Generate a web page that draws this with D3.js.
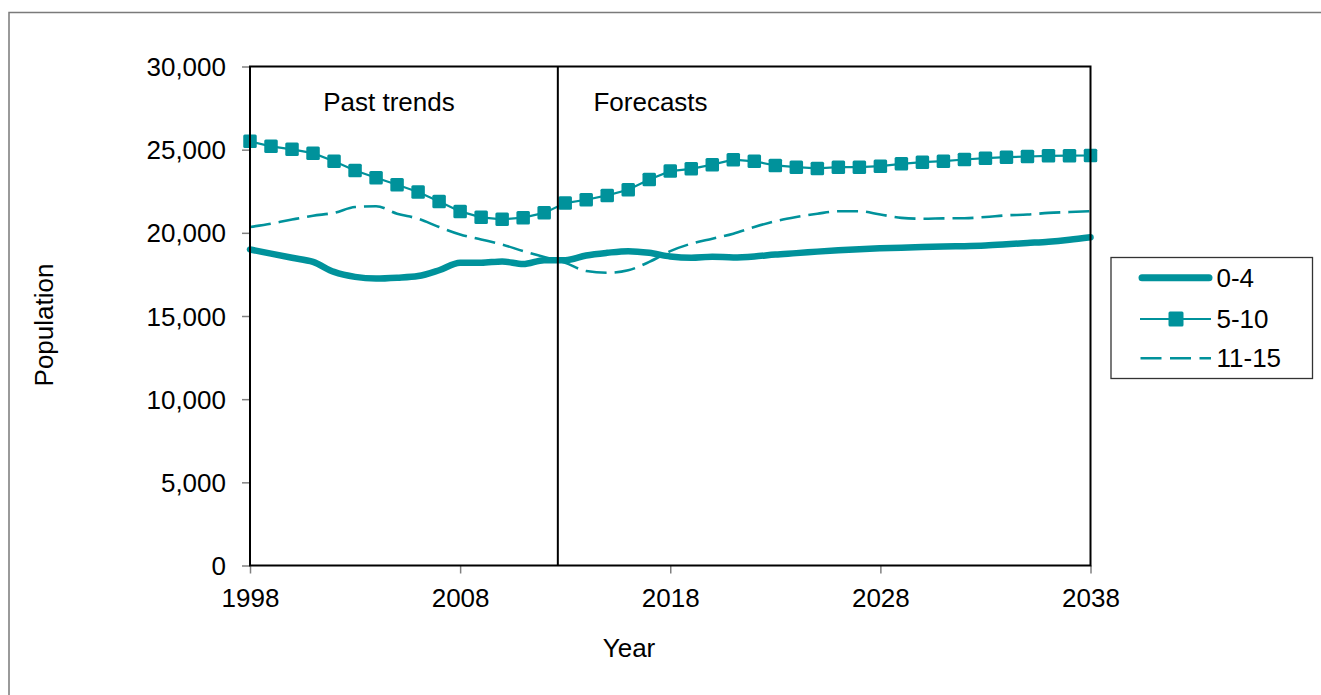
<!DOCTYPE html>
<html>
<head>
<meta charset="utf-8">
<script src="https://cdn.jsdelivr.net/npm/d3@7"></script>
<style>
  html, body { margin: 0; padding: 0; background: #fff; }
  svg text { font-family: "Liberation Sans", Arial, sans-serif; fill: #000; }
</style>
</head>
<body>
<svg id="chart" width="1321" height="695"></svg>
<script>
const years = [1998,1999,2000,2001,2002,2003,2004,2005,2006,2007,2008,2009,2010,2011,2012,2013,2014,2015,2016,2017,2018,2019,2020,2021,2022,2023,2024,2025,2026,2027,2028,2029,2030,2031,2032,2033,2034,2035,2036,2037,2038];
const age0_4 = [19000,18750,18500,18250,17650,17350,17250,17300,17400,17750,18200,18200,18280,18120,18350,18350,18640,18800,18900,18800,18580,18500,18560,18520,18580,18700,18780,18870,18950,19020,19070,19110,19150,19180,19200,19240,19310,19390,19470,19590,19740];
const age5_10 = [25500,25200,25020,24790,24310,23750,23310,22890,22450,21890,21290,20930,20810,20910,21200,21790,21990,22250,22590,23210,23710,23850,24100,24400,24300,24050,23950,23870,23950,23950,24010,24150,24250,24310,24410,24490,24550,24590,24630,24640,24650];
const age11_15 = [20350,20550,20800,21030,21200,21550,21600,21150,20850,20350,19900,19600,19300,18900,18550,18200,17700,17600,17750,18250,18900,19350,19650,19950,20350,20700,20950,21150,21300,21300,21100,20900,20850,20870,20880,20950,21050,21100,21200,21250,21300];
const seriesNames = ["0-4","5-10","11-15"];
const xTicks = [1998,2008,2018,2028,2038];
const yTicks = [0,5000,10000,15000,20000,25000,30000];
const dividerYear = 2012.65;
const periodLabels = ["Past trends","Forecasts"];
const xTitle = "Year";
const yTitle = "Population";

const teal = "#00929B";
const svg = d3.select("#chart");

// outer chart border
svg.append("rect").attr("x",9).attr("y",12.5).attr("width",1330).attr("height",700)
  .attr("fill","none").attr("stroke","#7a7a7a").attr("stroke-width",1.5);

const x = d3.scaleLinear().domain([1998,2038]).range([250,1090.5]);
const y = d3.scaleLinear().domain([0,30000]).range([565.5,66.5]);

// ticks
const yAxis = d3.axisLeft(y).tickValues(yTicks).tickSize(8).tickFormat(d3.format(","));
const yg = svg.append("g").attr("transform","translate(250,0)").call(yAxis);
yg.select(".domain").remove();
yg.selectAll(".tick line").attr("stroke","#808080").attr("stroke-width",1.5);
yg.selectAll(".tick text").attr("x",-24).attr("dy","0.35em")
  .style("font-size","26px").style("font-family","'Liberation Sans', Arial, sans-serif").attr("fill","#000");

const xAxis = d3.axisBottom(x).tickValues(xTicks).tickSize(8).tickFormat(d3.format("d"));
const xg = svg.append("g").attr("transform","translate(0,565.5)").call(xAxis);
xg.select(".domain").remove();
xg.selectAll(".tick line").attr("stroke","#808080").attr("stroke-width",1.5);
xg.selectAll(".tick text").attr("y",23).attr("dy","0.71em")
  .style("font-size","26px").style("font-family","'Liberation Sans', Arial, sans-serif").attr("fill","#000");

// series
const pts = arr => years.map((yr,i)=>[yr,arr[i]]);
const lineSmooth = d3.line().x(d=>x(d[0])).y(d=>y(d[1])).curve(d3.curveMonotoneX);
const lineLin = d3.line().x(d=>x(d[0])).y(d=>y(d[1]));

svg.append("path").attr("d",lineSmooth(pts(age0_4))).attr("fill","none")
  .attr("stroke",teal).attr("stroke-width",6.5).attr("stroke-linejoin","round").attr("stroke-linecap","round");

svg.append("path").attr("d",lineLin(pts(age5_10))).attr("fill","none")
  .attr("stroke",teal).attr("stroke-width",2.2);
const ms = 13.5;
svg.append("g").selectAll("rect").data(pts(age5_10)).join("rect")
  .attr("x",d=>x(d[0])-ms/2).attr("y",d=>y(d[1])-ms/2)
  .attr("width",ms).attr("height",ms).attr("rx",1.5).attr("fill",teal);

svg.append("path").attr("d",lineSmooth(pts(age11_15))).attr("fill","none")
  .attr("stroke",teal).attr("stroke-width",2.6).attr("stroke-dasharray","21,8");

// plot frame
svg.append("rect").attr("x",x(1998)).attr("y",y(30000))
  .attr("width",x(2038)-x(1998)).attr("height",y(0)-y(30000))
  .attr("fill","none").attr("stroke","#000").attr("stroke-width",2);

// divider
svg.append("line").attr("x1",x(dividerYear)).attr("x2",x(dividerYear))
  .attr("y1",y(30000)).attr("y2",y(0)).attr("stroke","#000").attr("stroke-width",2);

svg.append("text").attr("x",389).attr("y",111).attr("text-anchor","middle")
  .style("font-size","26px").text(periodLabels[0]);
svg.append("text").attr("x",650.5).attr("y",111).attr("text-anchor","middle")
  .style("font-size","26px").text(periodLabels[1]);

// axis titles
svg.append("text").attr("x",629).attr("y",657).attr("text-anchor","middle")
  .style("font-size","26px").text(xTitle);
svg.append("text").attr("transform","translate(53,325) rotate(-90)").attr("text-anchor","middle")
  .style("font-size","26px").text(yTitle);

// legend
const lg = svg.append("g");
lg.append("rect").attr("x",1111).attr("y",257.5).attr("width",201.5).attr("height",121)
  .attr("fill","#fff").attr("stroke","#333").attr("stroke-width",1.3);
const rowsY = [277.7,319,358.3];
lg.append("line").attr("x1",1142).attr("x2",1209).attr("y1",rowsY[0]).attr("y2",rowsY[0])
  .attr("stroke",teal).attr("stroke-width",7).attr("stroke-linecap","round");
lg.append("line").attr("x1",1140).attr("x2",1211).attr("y1",rowsY[1]).attr("y2",rowsY[1])
  .attr("stroke",teal).attr("stroke-width",2.2);
lg.append("rect").attr("x",1176-7.5).attr("y",rowsY[1]-7.5).attr("width",15).attr("height",15)
  .attr("rx",1.5).attr("fill",teal);
lg.append("line").attr("x1",1140.5).attr("x2",1211).attr("y1",rowsY[2]).attr("y2",rowsY[2])
  .attr("stroke",teal).attr("stroke-width",2.6).attr("stroke-dasharray","21,8.5");
seriesNames.forEach((n,i)=>{
  lg.append("text").attr("x",1216.5).attr("y",rowsY[i]).attr("dy","0.35em")
    .style("font-size","26px").text(n);
});
</script>
</body>
</html>
